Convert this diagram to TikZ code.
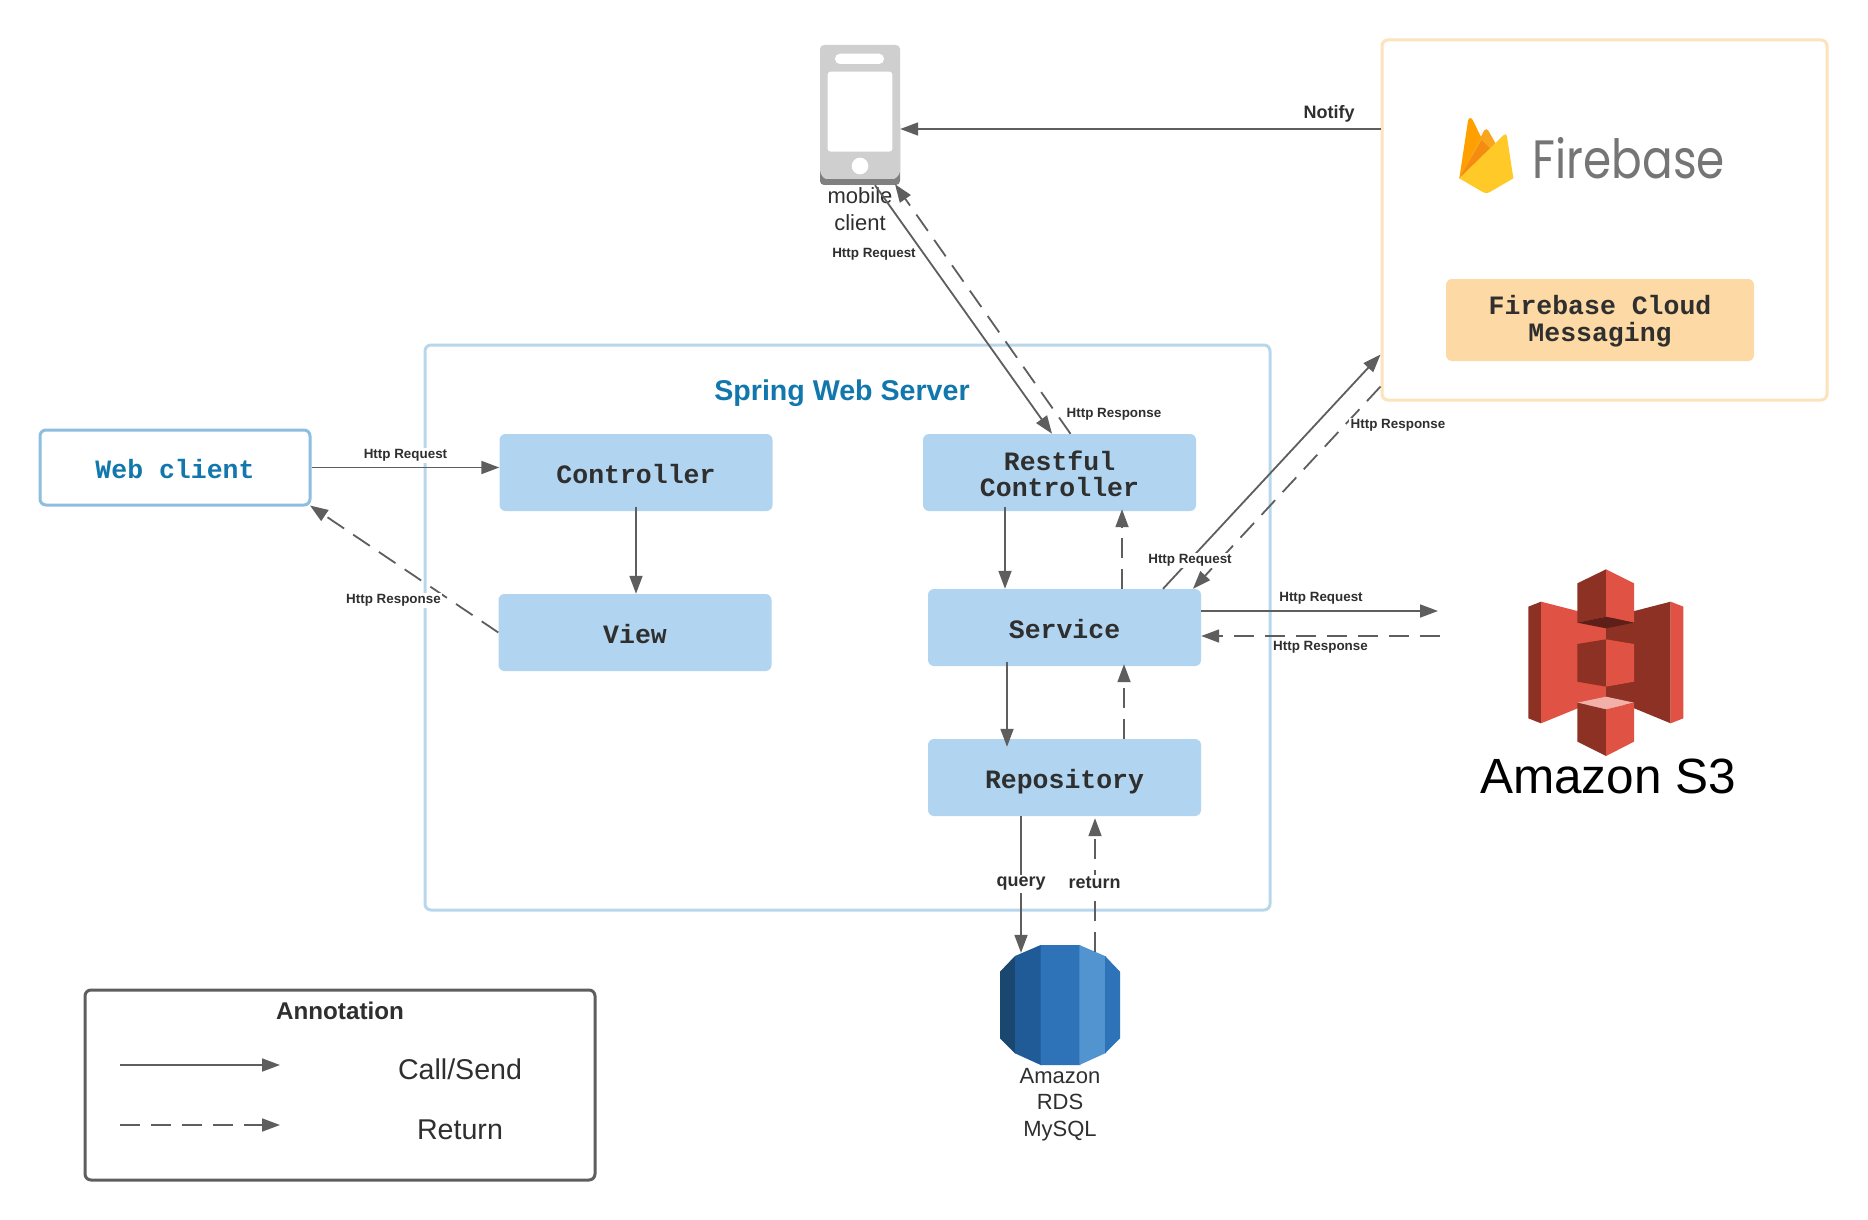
\documentclass[tikz,border=0pt]{standalone}
\usepackage{fontspec}
\setmainfont{Liberation Sans}
\setmonofont{Liberation Mono}
\newfontfamily\fbfont{Poppins}
\usetikzlibrary{arrows.meta,calc}
\definecolor{boxblue}{HTML}{B1D5F0}
\definecolor{springline}{HTML}{B8D7EC}
\definecolor{webline}{HTML}{8DBEE0}
\definecolor{fireline}{HTML}{FCE3BC}
\definecolor{fcmfill}{HTML}{FDD9A5}
\definecolor{linegray}{HTML}{5E5E5E}
\definecolor{txt}{HTML}{2F2F2F}
\definecolor{brandblue}{HTML}{1277AC}
\definecolor{rdsa}{HTML}{1A476F}
\definecolor{rdsb}{HTML}{205B98}
\definecolor{rdsc}{HTML}{2E73B8}
\definecolor{rdsd}{HTML}{5294CF}
\definecolor{s3light}{HTML}{E05243}
\definecolor{s3dark}{HTML}{8C3123}
\definecolor{s3deep}{HTML}{5E1F18}
\definecolor{s3pale}{HTML}{F2B0A9}
\definecolor{flamea}{HTML}{FFA000}
\definecolor{flameb}{HTML}{F9A51E}
\definecolor{flamec}{HTML}{F58C12}
\definecolor{flamed}{HTML}{FFCA28}
\newcommand\lowr[1]{\rule{0pt}{#1pt}}
\tikzset{
  box/.style={fill=boxblue,rounded corners=6pt,minimum width=273pt,minimum height=77pt,inner sep=0pt,align=center,text=txt,
    font=\fontsize{26.5}{26.5}\selectfont\ttfamily\bfseries},
  oneline/.style={text height=22pt,text depth=0pt},
  frame/.style={rounded corners=6pt,line width=3pt,inner sep=0pt},
  edgelbl/.style={fill=white,inner sep=1.5pt,text=txt,font=\fontsize{13.4}{15}\selectfont\bfseries},
  bigedgelbl/.style={fill=white,inner sep=2pt,text=txt,font=\fontsize{18}{20}\selectfont\bfseries},
  iconlbl/.style={inner sep=0pt,align=center,text=txt,font=\fontsize{22}{26.5}\selectfont},
  legendlbl/.style={inner sep=0pt,text=txt,font=\fontsize{28.6}{30}\selectfont},
  call/.style={draw=linegray,line width=1.8pt,-{Triangle[length=18pt,width=13pt]}},
  ret/.style={call,dash pattern=on 20pt off 11pt},
}
\begin{document}
\begin{tikzpicture}[x=1pt,y=-1pt]
\useasboundingbox (0,0) rectangle (1868,1220);
\fill[white] (0,0) rectangle (1868,1220);

% containers
\node[frame,draw=springline,minimum width=845pt,minimum height=565pt] (spring) at (847.5,627.5) {};
\node[frame,draw=fireline,minimum width=445pt,minimum height=360pt] (fire) at (1604.5,220) {};
\node[frame,draw=linegray,minimum width=510pt,minimum height=190pt] (legend) at (340,1085) {};
\node[frame,draw=webline,fill=white,minimum width=270pt,minimum height=75pt,text=brandblue,text height=22pt,text depth=0pt,
  font=\fontsize{26.5}{26.5}\selectfont\ttfamily\bfseries] (web) at (175,467.5) {Web client};
\node[inner sep=0pt,text=brandblue,font=\fontsize{28.6}{30}\selectfont\bfseries] (springt) at (842,393.5) {Spring Web Server};

% boxes
\node[box,oneline] (ctrl) at (636,472.5) {Controller};
\node[box,oneline] (view) at (635,632.5) {View};
\node[box] (rest) at (1059.5,472.5) {\lowr{22}Restful\\[0pt]Controller};
\node[box,oneline] (svc) at (1064.5,627.5) {Service};
\node[box,oneline] (repo) at (1064.5,777.5) {Repository};
\node[box,fill=fcmfill,minimum width=308pt,minimum height=82pt] (fcm) at (1600,320) {\lowr{21.5}Firebase Cloud\\[0pt]Messaging};

% phone
\node[inner sep=0pt,minimum width=80pt,minimum height=140pt] (phone) at (860,115) {};
\begin{scope}[shift={(780,20)},x=0.33333pt,y=-0.33333pt]
  \fill[black!50,rounded corners=4pt] (120,300) rectangle (360,495);
  \path[fill=black!19,rounded corners=4pt] (120,75) -- (360,75) -- (360,465) .. controls (345,475) and (345,477) .. (330,477) -- (150,477) .. controls (135,477) and (130,472) .. (120,462) -- cycle;
  \fill[white,rounded corners=5pt] (165,101) rectangle (312,132);
  \fill[white,rounded corners=3pt] (143,155) rectangle (337,395);
  \fill[white] (240,438) circle (25);
\end{scope}
\node[iconlbl] (phonet) at (860,209) {mobile\\client};

% RDS
\node[inner sep=0pt,minimum width=120pt,minimum height=120pt] (rds) at (1060,1005) {};
\begin{scope}[shift={(960,920)},x=0.33333pt,y=-0.33333pt]
  \fill[rdsa] (120,155) -- (165,108) -- (168,108) -- (168,400) -- (165,400) -- (120,355) -- cycle;
  \fill[rdsb] (165,108) -- (242,75) -- (245,75) -- (245,435) -- (242,435) -- (165,400) -- cycle;
  \fill[rdsc] (242,75) -- (358,75) -- (361,75) -- (361,435) -- (242,435) -- cycle;
  \fill[rdsd] (358,75) -- (435,108) -- (438,108) -- (438,400) -- (435,400) -- (358,435) -- cycle;
  \fill[rdsc] (435,108) -- (480,155) -- (480,355) -- (435,400) -- cycle;
\end{scope}
\node[iconlbl] (rdst) at (1060,1104.5) {Amazon\\RDS\\MySQL};

% S3
\node[inner sep=0pt,minimum width=155pt,minimum height=187pt] (s3) at (1606,663) {};
\begin{scope}[shift={(1460,550)},x=0.33333pt,y=-0.33333pt]
  \fill[s3dark] (205,170) -- (243,155) -- (243,520) -- (205,505) -- cycle;
  \fill[s3light] (243,155) -- (438,205) -- (438,440) -- (243,520) -- cycle;
  \fill[s3dark] (632,155) -- (438,205) -- (438,440) -- (632,520) -- cycle;
  \fill[s3light] (632,155) -- (670,170) -- (670,505) -- (632,520) -- cycle;
  \fill[s3dark] (352,100) -- (438,58) -- (438,200) -- (352,218) -- cycle;
  \fill[s3light] (438,58) -- (522,100) -- (522,218) -- (438,200) -- cycle;
  \fill[s3deep] (352,218) -- (438,200) -- (522,218) -- (438,235) -- cycle;
  \fill[s3dark] (352,282) -- (438,268) -- (438,410) -- (352,395) -- cycle;
  \fill[s3light] (438,268) -- (522,282) -- (522,395) -- (438,410) -- cycle;
  \fill[s3pale] (352,458) -- (438,440) -- (522,458) -- (438,478) -- cycle;
  \fill[s3dark] (352,458) -- (438,478) -- (438,618) -- (352,575) -- cycle;
  \fill[s3light] (438,478) -- (522,458) -- (522,575) -- (438,618) -- cycle;
\end{scope}
\node[inner sep=0pt,text=black,font=\fontsize{49.5}{52}\selectfont] (s3t) at (1608,776) {Amazon S3};

% Firebase logo
\node[inner sep=0pt,minimum width=58pt,minimum height=76pt] (flame) at (1487,158) {};
\begin{scope}[shift={(1400,90)},x=0.33333pt,y=-0.33333pt]
  \fill[flamea] (178,265) -- (204,92) .. controls (206,82) and (214,82) .. (218,90) -- (255,165) -- cycle;
  \fill[flameb] (178,265) -- (252,122) .. controls (256,116) and (262,116) .. (265,122) -- (295,175) -- cycle;
  \fill[flamec] (178,265) -- (245,150) -- (280,185) -- cycle;
  \fill[flamed] (178,265) -- (310,136) .. controls (316,130) and (320,132) .. (321,140) -- (340,265) -- (270,306) .. controls (262,311) and (256,311) .. (248,306) -- cycle;
\end{scope}
\node[inner sep=0pt,text=black!54,font=\fontsize{54}{56}\selectfont\fbfont] (fbt) at (1629,158) {\scalebox{0.84}[1]{Firebase}};

% free ends on the S3 side
\coordinate (s3in) at (1438,611);
\coordinate (s3out) at (1440,636);

% connectors
\draw[call] (web.east) -- (ctrl.west |- web.east);
\draw[ret] (view.west) -- ([xshift=-1.5pt,yshift=-38pt]web.east);
\draw[call] ([yshift=4pt]ctrl.south) -- (view.north -| ctrl.south);
\draw[call] (fire.west |- 0,129) -- (phone.east |- 0,129);
\draw[call] ([xshift=15pt]phone.south) -- ([xshift=-7.5pt]rest.north);
\draw[ret] ([xshift=11pt]rest.north) -- ([xshift=35pt,yshift=1pt]phone.south);
\draw[call] ([xshift=-54.5pt,yshift=4pt]rest.south) -- ([xshift=-59.5pt]svc.north);
\draw[ret] ([xshift=57.5pt]svc.north) -- ([xshift=62.5pt,yshift=2pt]rest.south);
\draw[call] ([xshift=-57.5pt,yshift=4pt]svc.south) -- ([xshift=-57.5pt,yshift=-8pt]repo.north);
\draw[ret] ([xshift=59.5pt]repo.north) -- ([xshift=59.5pt,yshift=2pt]svc.south);
\draw[call] ([xshift=-43.5pt]repo.south) -- ([xshift=-39pt,yshift=-8pt]rds.north);
\draw[ret] ([xshift=35pt,yshift=-7pt]rds.north) -- ([xshift=30.5pt,yshift=-2pt]repo.south);
\draw[call] ([xshift=98.5pt]svc.north) -- ([yshift=47pt]fire.south west);
\draw[ret] ([yshift=15pt]fire.south west) -- ([xshift=128.5pt]svc.north);
\draw[call] (svc.east |- s3in) -- (s3in);
\draw[ret] (s3out) -- (svc.east |- s3out);

% legend
\coordinate (la) at (120,1065);
\coordinate (lb) at (280,1065);
\coordinate (lc) at (120,1125);
\coordinate (ld) at (280,1125);
\draw[call] (la) -- (lb);
\draw[ret] (lc) -- (ld);
\node[inner sep=0pt,text=txt,font=\fontsize{24.2}{26}\selectfont\bfseries] (legt) at (340,1011) {Annotation};
\node[legendlbl] (legcs) at (460,1069) {Call/Send};
\node[legendlbl] (legr) at (460,1130) {Return};

% connector labels
\node[edgelbl] (l1) at (405.5,455.2) {Http Request};
\node[edgelbl] (l2) at (393.5,600.2) {Http Response};
\node[edgelbl] (l3) at (874,254) {Http Request};
\node[edgelbl] (l4) at (1114,414.2) {Http Response};
\node[edgelbl] (l5) at (1398,425.2) {Http Response};
\node[edgelbl] (l6) at (1190,560.2) {Http Request};
\node[edgelbl] (l7) at (1321,598.2) {Http Request};
\node[edgelbl] (l8) at (1320.5,647.2) {Http Response};
\node[bigedgelbl] (l9) at (1329,114) {Notify};
\node[bigedgelbl] (l10) at (1021,884) {query};
\node[bigedgelbl] (l11) at (1094.5,883) {return};
\end{tikzpicture}
\end{document}
